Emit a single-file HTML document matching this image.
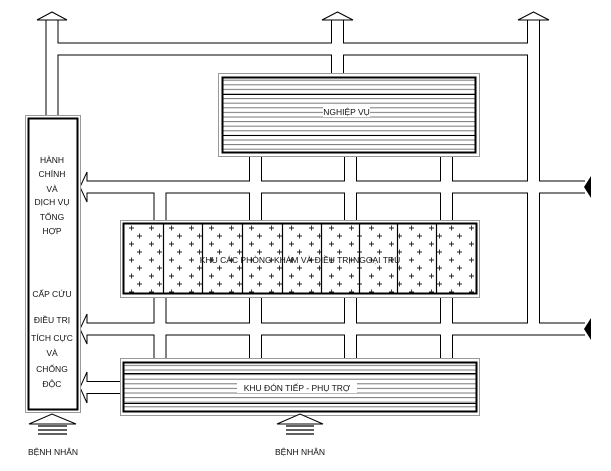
<!DOCTYPE html>
<html><head><meta charset="utf-8"><style>
html,body{margin:0;padding:0;background:#fff;width:611px;height:471px;overflow:hidden}
svg{display:block}
text{font-family:"Liberation Sans",sans-serif;font-size:8.5px;fill:#111}
</style></head><body>
<svg width="611" height="471" viewBox="0 0 611 471" xmlns="http://www.w3.org/2000/svg">
<defs>
<pattern id="hatch" patternUnits="userSpaceOnUse" width="10" height="4.6" y="1">
<line x1="0" y1="1" x2="10" y2="1" stroke="#777" stroke-width="1"/>
</pattern>
<pattern id="plus" patternUnits="userSpaceOnUse" width="20" height="16" x="123" y="224">
<path d="M6 4h5M8.5 1.5v5M14 12h5M16.5 9.5v5" stroke="#222" stroke-width="0.9"/>
</pattern>
</defs>
<!-- corridors black -->
<g stroke="#000" stroke-width="13" fill="none">
<line x1="52" y1="49" x2="533.5" y2="49"/>
<line x1="52" y1="20" x2="52" y2="116"/>
<line x1="337.5" y1="20" x2="337.5" y2="74"/>
<line x1="533.5" y1="20" x2="533.5" y2="329"/>
<line x1="87" y1="187" x2="585" y2="187"/>
<line x1="87" y1="329" x2="585" y2="329"/>
<line x1="160" y1="187" x2="160" y2="358"/>
<line x1="255.5" y1="156" x2="255.5" y2="358"/>
<line x1="350.5" y1="156" x2="350.5" y2="358"/>
<line x1="446.5" y1="156" x2="446.5" y2="358"/>
<line x1="87" y1="387.5" x2="121" y2="387.5"/>
</g>
<!-- arrow heads -->
<g fill="#fff" stroke="#000" stroke-width="1">
<polygon points="37,20 52,12 67,20"/>
<polygon points="322,20 337.5,12 353,20"/>
<polygon points="518,20 533.5,12 549,20"/>
<polygon points="87,172 80,187 87,202"/>
<polygon points="87,314 80,329 87,344"/>
<polygon points="87,372 80,387.5 87,403"/>
</g>
<g stroke="#fff" stroke-width="11" fill="none">
<line x1="52" y1="49" x2="533.5" y2="49"/>
<line x1="52" y1="20.5" x2="52" y2="116"/>
<line x1="337.5" y1="20.5" x2="337.5" y2="74"/>
<line x1="533.5" y1="20.5" x2="533.5" y2="329"/>
<line x1="86.5" y1="187" x2="586" y2="187"/>
<line x1="86.5" y1="329" x2="586" y2="329"/>
<line x1="160" y1="187" x2="160" y2="358"/>
<line x1="255.5" y1="156" x2="255.5" y2="358"/>
<line x1="350.5" y1="156" x2="350.5" y2="358"/>
<line x1="446.5" y1="156" x2="446.5" y2="358"/>
<line x1="86.5" y1="387.5" x2="121" y2="387.5"/>
</g>
<polygon points="591,176 584,187 591,198" fill="#000"/>
<polygon points="591,318 584,329 591,340" fill="#000"/>

<!-- left box -->
<rect x="25.5" y="115.5" width="55" height="297" fill="#fff" stroke="#999" stroke-width="1"/>
<rect x="28.5" y="118.5" width="49" height="291" fill="#fff" stroke="#000" stroke-width="2"/>
<g text-anchor="middle">
<text x="52" y="163">HÀNH</text>
<text x="52" y="177">CHÍNH</text>
<text x="52" y="192">VÀ</text>
<text x="52" y="205">DỊCH VỤ</text>
<text x="52" y="220">TỔNG</text>
<text x="52" y="234">HỢP</text>
<text x="52" y="297">CẤP CỨU</text>
<text x="52" y="323">ĐIỀU TRỊ</text>
<text x="52" y="341">TÍCH CỰC</text>
<text x="52" y="356">VÀ</text>
<text x="52" y="372">CHỐNG</text>
<text x="52" y="387">ĐỘC</text>
</g>

<!-- nghiep vu -->
<rect x="218.5" y="73.5" width="261" height="83" fill="#fff" stroke="#999"/>
<rect x="222.5" y="77.5" width="253" height="75" fill="url(#hatch)" stroke="#000" stroke-width="2"/>
<line x1="223" y1="94.5" x2="475" y2="94.5" stroke="#000"/>
<line x1="223" y1="135.5" x2="475" y2="135.5" stroke="#000"/>
<rect x="323" y="106" width="47" height="11" fill="#fff"/>
<text x="346.5" y="115" text-anchor="middle">NGHIỆP VỤ</text>

<!-- clinic -->
<rect x="120.5" y="220.5" width="359" height="77" fill="#fff" stroke="#999"/>
<rect x="123.5" y="223.5" width="353" height="70" fill="url(#plus)" stroke="#000" stroke-width="2"/>
<g stroke="#000" stroke-width="1.2">
<line x1="163.5" y1="224" x2="163.5" y2="293"/>
<line x1="202.5" y1="224" x2="202.5" y2="293"/>
<line x1="242.5" y1="224" x2="242.5" y2="293"/>
<line x1="282.5" y1="224" x2="282.5" y2="293"/>
<line x1="321.5" y1="224" x2="321.5" y2="293"/>
<line x1="359.5" y1="224" x2="359.5" y2="293"/>
<line x1="397.5" y1="224" x2="397.5" y2="293"/>
<line x1="436.5" y1="224" x2="436.5" y2="293"/>
</g>
<text x="300" y="263" text-anchor="middle">KHU CÁC PHÒNG KHÁM VÀ ĐIỀU TRỊ NGOẠI TRÚ</text>

<!-- khu don tiep -->
<rect x="120.5" y="358.5" width="359" height="57" fill="#fff" stroke="#999"/>
<rect x="123.5" y="362.5" width="353" height="49" fill="url(#hatch)" stroke="#000" stroke-width="2"/>
<line x1="123" y1="373.5" x2="476" y2="373.5" stroke="#000"/>
<line x1="123" y1="403.5" x2="476" y2="403.5" stroke="#000"/>
<rect x="237" y="382" width="120" height="11" fill="#fff"/>
<text x="297" y="391" text-anchor="middle">KHU ĐÓN TIẾP - PHỤ TRỢ</text>

<!-- bottom arrows -->
<g fill="#fff" stroke="#000" stroke-width="1">
<polygon points="29,424 52,414 76,424"/>
<polygon points="277,424 300,414 323,424"/>
</g>
<g stroke="#000" stroke-width="1.3">
<line x1="38" y1="426" x2="67" y2="426"/><line x1="38" y1="430" x2="67" y2="430"/><line x1="38" y1="434" x2="67" y2="434"/>
<line x1="286" y1="426" x2="314" y2="426"/><line x1="286" y1="430" x2="314" y2="430"/><line x1="286" y1="434" x2="314" y2="434"/>
</g>
<text x="53" y="455" text-anchor="middle">BỆNH NHÂN</text>
<text x="300" y="455" text-anchor="middle">BỆNH NHÂN</text>
</svg>
</body></html>
